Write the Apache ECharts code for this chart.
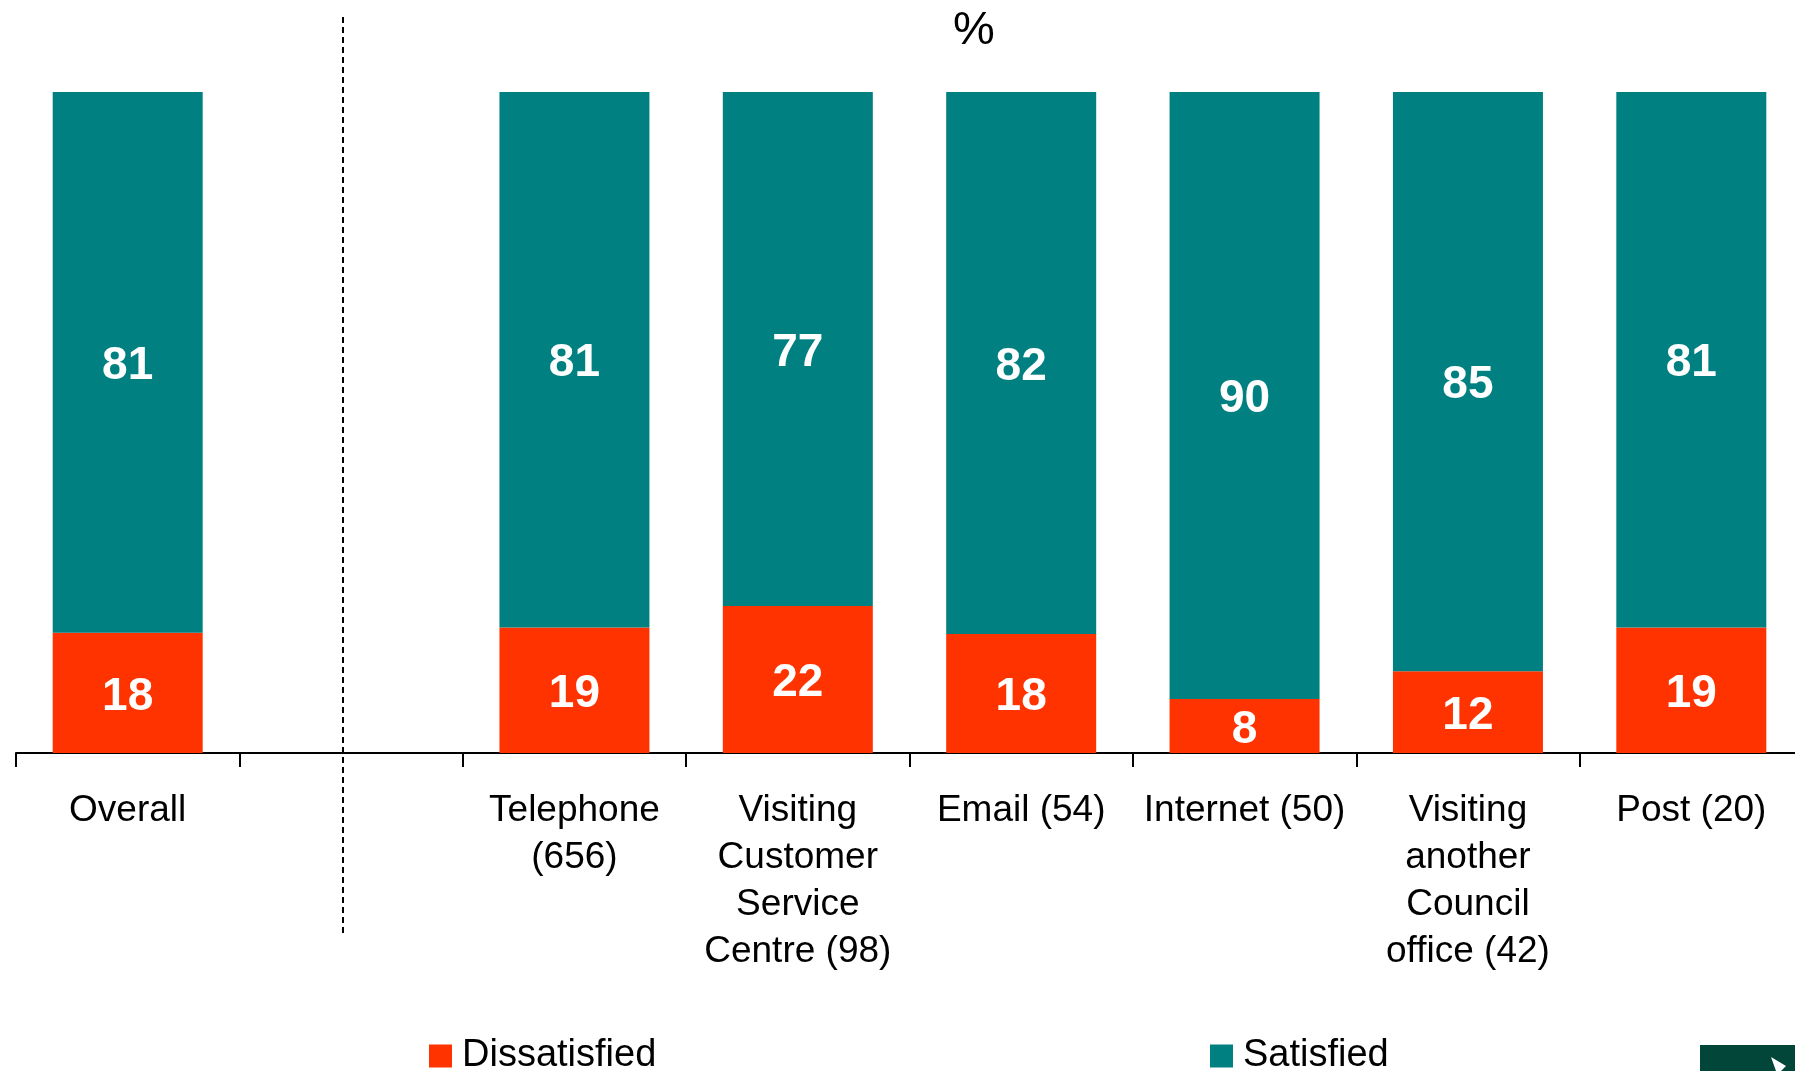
<!DOCTYPE html>
<html>
<head>
<meta charset="utf-8">
<script src="https://cdn.jsdelivr.net/npm/echarts@6/dist/echarts.min.js"></script>
<style>
html,body{margin:0;padding:0;background:#fff;}
#chart{width:1795px;height:1071px;}
</style>
</head>
<body>
<div id="chart"></div>
<script>
// Categories (blank slot separates Overall from the channels)
var categories = ['Overall', '', 'Telephone\n(656)', 'Visiting\nCustomer\nService\nCentre (98)', 'Email (54)', 'Internet (50)', 'Visiting\nanother\nCouncil\noffice (42)', 'Post (20)'];
// Reported percentages (labels)
var dissatisfied = [18, null, 19, 22, 18, 8, 12, 19];
var satisfied = [81, null, 81, 77, 82, 90, 85, 81];
var seriesNames = ['Dissatisfied', 'Satisfied'];

// 100% stacked: each bar's share of the answered total
function share(arr, i) {
  if (arr[i] == null) return null;
  var t = dissatisfied[i] + satisfied[i];
  return arr[i] / t * 100;
}
var dissShare = dissatisfied.map(function (v, i) { return share(dissatisfied, i); });
var satShare = satisfied.map(function (v, i) { return share(satisfied, i); });

var FONT = '"Liberation Sans", Arial, sans-serif';
var chart = echarts.init(document.getElementById('chart'));

var labelStyle = {
  show: true,
  position: 'inside',
  offset: [0, 4],
  color: '#ffffff',
  fontWeight: 'bold',
  fontSize: 46,
  fontFamily: FONT
};

chart.setOption({
  animation: false,
  backgroundColor: '#ffffff',
  grid: { left: 16, right: -8, top: 92, bottom: 318, containLabel: false, outerBoundsMode: 'none' },
  legend: [
    {
      data: [seriesNames[0]],
      left: 429, top: 1036, padding: 0,
      icon: 'rect', itemWidth: 23, itemHeight: 23,
      textStyle: { fontSize: 38, fontFamily: FONT, color: '#000', lineHeight: 40, padding: [0, 0, 0, 5] }
    },
    {
      data: [seriesNames[1]],
      left: 1210, top: 1036, padding: 0,
      icon: 'rect', itemWidth: 23, itemHeight: 23,
      textStyle: { fontSize: 38, fontFamily: FONT, color: '#000', lineHeight: 40, padding: [0, 0, 0, 5] }
    }
  ],
  xAxis: {
    type: 'category',
    data: categories,
    boundaryGap: true,
    axisLine: { show: true, lineStyle: { color: '#000', width: 2 } },
    axisTick: { show: true, length: 14, interval: 0, lineStyle: { color: '#000', width: 2 } },
    axisLabel: {
      interval: 0, fontSize: 37, lineHeight: 47, margin: 34,
      color: '#000', fontFamily: FONT, align: 'center'
    },
    splitLine: { show: false }
  },
  yAxis: { type: 'value', min: 0, max: 100, show: false },
  series: [
    {
      name: seriesNames[0], type: 'bar', stack: 'total', barWidth: 150,
      itemStyle: { color: '#FF3300' },
      label: Object.assign({}, labelStyle, {
        formatter: function (p) { return dissatisfied[p.dataIndex]; }
      }),
      data: dissShare
    },
    {
      name: seriesNames[1], type: 'bar', stack: 'total', barWidth: 150,
      itemStyle: { color: '#008080' },
      label: Object.assign({}, labelStyle, {
        formatter: function (p) { return satisfied[p.dataIndex]; }
      }),
      data: satShare
    }
  ],
  graphic: [
    {
      type: 'line', silent: true,
      shape: { x1: 343, y1: 17, x2: 343, y2: 937 },
      style: { stroke: '#000', lineWidth: 2, lineDash: [6, 4] }
    },
    {
      type: 'text', silent: true, x: 974, y: 31,
      style: { text: '%', fontSize: 47, fontFamily: FONT, fill: '#000', align: 'center', verticalAlign: 'middle' }
    },
    {
      type: 'rect', silent: true,
      shape: { x: 1700, y: 1045, width: 95, height: 26 },
      style: { fill: '#02463A' }
    },
    {
      type: 'polygon', silent: true,
      shape: { points: [[1771, 1057], [1786, 1066], [1781, 1071], [1776, 1071]] },
      style: { fill: '#ffffff' }
    }
  ]
});
</script>
</body>
</html>
